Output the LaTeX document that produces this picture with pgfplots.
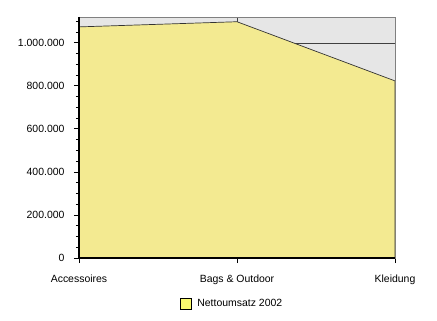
\documentclass[border=0pt]{standalone}
\usepackage{pgfplots}
\pgfplotsset{compat=1.18}
\usepackage{fontspec}
\setmainfont{Liberation Sans}
\definecolor{areay}{RGB}{243,234,145}
\definecolor{bggray}{RGB}{230,230,230}
\definecolor{legy}{RGB}{250,250,110}
\begin{document}
\begin{tikzpicture}
\begin{axis}[
  scale only axis,
  width=316bp, height=241bp,
  xmin=0, xmax=2,
  ymin=0, ymax=1120000,
  xtick={0,1,2},
  xticklabels={Accessoires,Bags \& Outdoor,Kleidung},
  ytick={0,200000,400000,600000,800000,1000000},
  yticklabels={0,200.000,400.000,600.000,800.000,1.000.000},
  minor ytick={50000,100000,150000,250000,300000,350000,450000,500000,550000,650000,700000,750000,850000,900000,950000,1050000,1100000},
  scaled y ticks=false,
  yticklabel style={font=\fontsize{10.5}{11}\selectfont, xshift=-6bp},
  xticklabel style={font=\fontsize{10.5}{11}\selectfont, yshift=-8bp},
  tick align=outside,
  xtick pos=bottom, ytick pos=left,
  major tick length=5bp, minor tick length=3bp,
  tick style={black, line width=0.8pt},
  axis background/.style={fill=bggray},
  ymajorgrids, xmajorgrids,
  grid style={black!75, line width=0.6pt},
  axis line style={gray, line width=0.8pt},
  axis on top=false,
  legend style={at={(0.49,-0.155)}, anchor=north, draw=none, fill=none,
    font=\fontsize{10.5}{11}\selectfont, legend cell align=left,
    nodes={inner xsep=5bp}},
  legend image code/.code={\draw[fill=legy, draw=black, line width=0.9pt] (0bp,-5.5bp) rectangle (11bp,5.5bp);},
]
\addplot[fill=areay, draw=black!80, line width=0.7pt] coordinates {(0,1074000) (1,1098000) (2,823000)} \closedcycle;
\addlegendentry{Nettoumsatz 2002}
\end{axis}
\draw[black, line width=1.2pt] (current axis.north west) -- (current axis.south west) -- (current axis.south east);
\path ([shift={(-79bp,-63bp)}]current axis.south west) rectangle ([shift={(42bp,17bp)}]current axis.north east);
\end{tikzpicture}
\end{document}
